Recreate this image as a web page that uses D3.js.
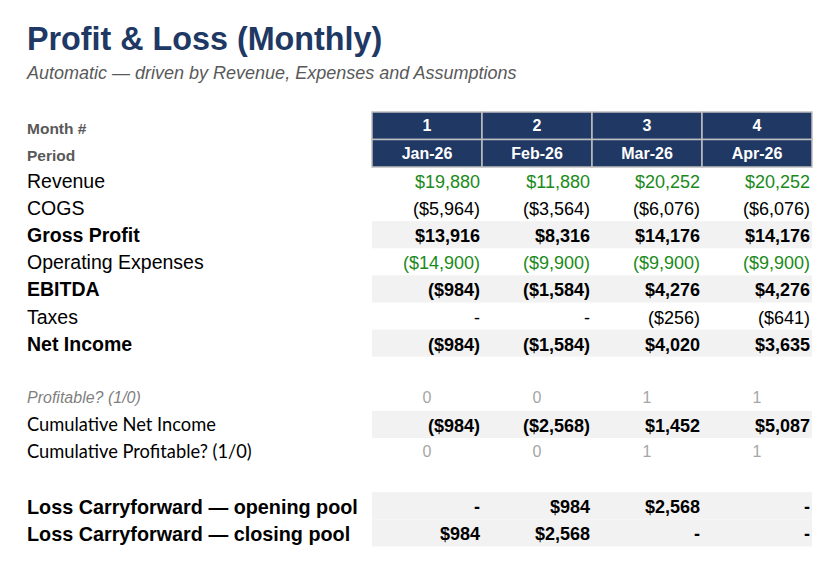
<!DOCTYPE html>
<html>
<head>
<meta charset="utf-8">
<script src="https://cdn.jsdelivr.net/npm/d3@7/dist/d3.min.js"></script>
<style>
  html, body { margin: 0; padding: 0; background: #fff; }
  svg { display: block; font-family: "Liberation Sans", Arial, sans-serif; }
</style>
</head>
<body>
<svg id="chart" width="838" height="571"></svg>
<script>
// values
var monthNums = [1, 2, 3, 4];
var periods = ['Jan-26', 'Feb-26', 'Mar-26', 'Apr-26'];
var revenue = [19880, 11880, 20252, 20252];
var cogs = [-5964, -3564, -6076, -6076];
var grossProfit = [13916, 8316, 14176, 14176];
var opex = [-14900, -9900, -9900, -9900];
var ebitda = [-984, -1584, 4276, 4276];
var taxes = [0, 0, -256, -641];
var netIncome = [-984, -1584, 4020, 3635];
var profitable = [0, 0, 1, 1];
var cumNetIncome = [-984, -2568, 1452, 5087];
var cumProfitable = [0, 0, 1, 1];
var lossOpening = [0, 984, 2568, 0];
var lossClosing = [984, 2568, 0, 0];

var NAVY = '#203864', GREEN = '#1a8a1a', SHADE = '#f2f2f2';

var rows = [
  { label: 'Revenue', values: revenue, color: GREEN },
  { label: 'COGS', values: cogs },
  { label: 'Gross Profit', values: grossProfit, bold: true, shade: true },
  { label: 'Operating Expenses', values: opex, color: GREEN },
  { label: 'EBITDA', values: ebitda, bold: true, shade: true },
  { label: 'Taxes', values: taxes },
  { label: 'Net Income', values: netIncome, bold: true, shade: true },
  null,
  { label: 'Profitable? (1/0)', values: profitable, flag: true, italic: true },
  { label: 'Cumulative Net Income', values: cumNetIncome, bold: true, shade: true, lato: true },
  { label: 'Cumulative Profitable? (1/0)', values: cumProfitable, flag: true, lato: true },
  null,
  { label: 'Loss Carryforward — opening pool', values: lossOpening, bold: true, shade: true, big: true },
  { label: 'Loss Carryforward — closing pool', values: lossClosing, bold: true, shade: true, big: true }
];

var svg = d3.select('#chart');

var x = d3.scaleBand().domain(periods).range([372, 812]);
var y = d3.scaleBand().domain(d3.range(rows.length)).range([167, 167 + rows.length * 27.1]);
var hy = d3.scaleBand().domain(['num', 'period']).range([112, 167]);

var money = d3.format('$,.0f');
function acct(v) {
  if (v === 0) return '-';
  return v < 0 ? '(' + money(-v) + ')' : money(v);
}

// title
svg.append('text')
  .attr('x', 27).attr('y', 50)
  .attr('fill', NAVY)
  .style('font-size', '32.3px').style('font-weight', 'bold')
  .text('Profit & Loss (Monthly)');
svg.append('text')
  .attr('x', 27).attr('y', 79)
  .attr('fill', '#595959')
  .style('font-size', '18px').style('font-style', 'italic')
  .text('Automatic — driven by Revenue, Expenses and Assumptions');

// header labels
svg.append('text').attr('x', 27).attr('y', 134)
  .attr('fill', '#595959').style('font-size', '15.5px').style('font-weight', 'bold')
  .text('Month #');
svg.append('text').attr('x', 27).attr('y', 161)
  .attr('fill', '#595959').style('font-size', '15.5px').style('font-weight', 'bold')
  .text('Period');

// header cells
var head = svg.append('g').attr('class', 'head');
hy.domain().forEach(function(key) {
  var labels = key === 'num' ? monthNums : periods;
  var g = head.selectAll('g.' + key).data(periods).enter().append('g').attr('class', key);
  g.append('rect')
    .attr('x', function(d) { return x(d); })
    .attr('y', hy(key))
    .attr('width', x.bandwidth())
    .attr('height', hy.bandwidth())
    .attr('fill', NAVY)
    .attr('stroke', '#bfbfbf')
    .attr('stroke-width', 1.5);
  g.append('text')
    .attr('x', function(d) { return x(d) + x.bandwidth() / 2; })
    .attr('y', hy(key) + 19)
    .attr('text-anchor', 'middle')
    .attr('fill', '#fff')
    .style('font-size', '16px').style('font-weight', 'bold')
    .text(function(d, i) { return labels[i]; });
});

// body rows
var body = svg.append('g').attr('class', 'body');
rows.forEach(function(r, ri) {
  if (!r) return;
  var top = y(ri);
  if (r.shade) {
    body.append('rect')
      .attr('x', x.range()[0]).attr('y', top)
      .attr('width', x.range()[1] - x.range()[0])
      .attr('height', y.bandwidth())
      .attr('fill', SHADE);
  }
  var lab = body.append('text')
    .attr('x', 27)
    .attr('y', top + 21)
    .attr('fill', '#000')
    .text(r.label);
  if (r.italic) {
    lab.attr('y', top + 19).attr('fill', '#7f7f7f')
      .style('font-size', '16px').style('font-style', 'italic');
  } else if (r.lato) {
    lab.attr('y', top + 20).style('font-family', 'Lato, sans-serif').style('font-size', '18.3px');
  } else {
    lab.style('font-size', r.big ? '19.8px' : '19.5px').style('font-weight', r.bold ? 'bold' : 'normal');
    if (r.big) lab.attr('y', top + 22);
  }

  body.selectAll(null).data(r.values).enter().append('text')
    .attr('x', function(d, i) {
      return r.flag ? x(periods[i]) + x.bandwidth() / 2 : x(periods[i]) + x.bandwidth() - 2;
    })
    .attr('y', top + (r.flag ? 19 : 21))
    .attr('text-anchor', r.flag ? 'middle' : 'end')
    .attr('fill', r.flag ? '#a6a6a6' : (r.color || '#000'))
    .style('font-size', r.flag ? '16px' : '18px')
    .style('font-weight', r.bold ? 'bold' : 'normal')
    .text(function(d) { return r.flag ? d : acct(d); });
});
</script>
</body>
</html>
